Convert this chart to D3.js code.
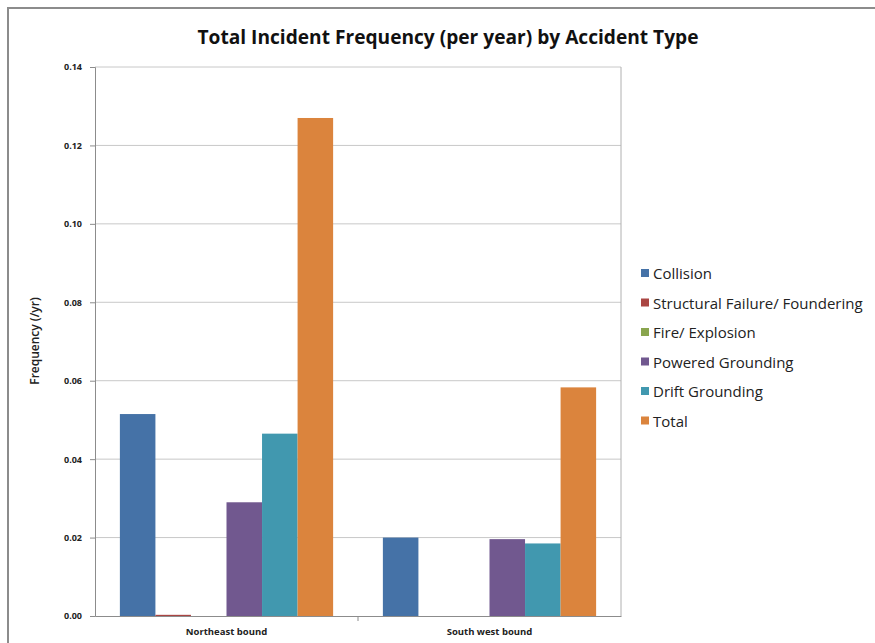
<!DOCTYPE html>
<html><head><meta charset="utf-8">
<script src="https://cdn.jsdelivr.net/npm/d3@7"></script>
<style>body{margin:0;background:#fff}svg{display:block}</style>
</head><body>
<svg id="c" width="875" height="643"></svg>
<script>
const categories = ["Northeast bound", "South west bound"];
const seriesNames = ["Collision", "Structural Failure/ Foundering", "Fire/ Explosion", "Powered Grounding", "Drift Grounding", "Total"];
const seriesColors = ["#4572A7", "#AA4643", "#89A54E", "#71588F", "#4198AF", "#DB843D"];
const northeastValues = [0.0515, 0.0003, 0, 0.029, 0.0465, 0.127];
const southwestValues = [0.020, 0, 0, 0.0196, 0.0185, 0.0583];
const yTicks = [0, 0.02, 0.04, 0.06, 0.08, 0.10, 0.12, 0.14];
const values = [northeastValues, southwestValues];

const svg = d3.select("#c");
const font = "'Open Sans', 'DejaVu Sans', sans-serif";
// outer frame
svg.append("path").attr("d","M8,643 V8 H875").attr("fill","none").attr("stroke","#8c8c8c").attr("stroke-width",2);

const L=95, R=621, T=67, B=616;
const x0 = d3.scaleBand().domain(categories).range([L,R]).padding(0);
const x1 = d3.scaleBand().domain(seriesNames).range([0, x0.bandwidth()]).paddingInner(0).paddingOuter(0.7);
const y = d3.scaleLinear().domain([0,0.14]).range([B,T]);

// gridlines
svg.append("g").selectAll("line").data(yTicks.slice(1)).join("line")
  .attr("x1",L).attr("x2",R).attr("y1",d=>y(d)).attr("y2",d=>y(d))
  .attr("stroke","#c8c8c8").attr("stroke-width",1);
svg.append("line").attr("x1",R).attr("x2",R).attr("y1",T).attr("y2",B).attr("stroke","#b0b0b0");

// bars
const g = svg.append("g");
categories.forEach((c,ci)=>{
  g.append("g").selectAll("rect").data(values[ci].map((v,i)=>({v,i}))).join("rect")
   .attr("x",d=>x0(c)+x1(seriesNames[d.i]))
   .attr("width",x1.bandwidth())
   .attr("y",d=>y(d.v))
   .attr("height",d=>B-y(d.v))
   .attr("fill",d=>seriesColors[d.i]);
});

// y axis
const ya = svg.append("g").attr("transform",`translate(${L},0)`)
  .call(d3.axisLeft(y).tickValues(yTicks).tickFormat(d3.format(".2f")).tickSize(5).tickPadding(8));
ya.select(".domain").attr("stroke","#8c8c8c");
ya.selectAll(".tick line").attr("stroke","#8c8c8c");
ya.selectAll("text").attr("font-family",font).attr("font-size",9).attr("font-weight","bold").attr("fill","#222");

// x axis
const xa = svg.append("g").attr("transform",`translate(0,${B})`)
  .call(d3.axisBottom(x0).tickSize(0).tickPadding(12));
xa.select(".domain").attr("stroke","#8c8c8c");
xa.selectAll("text").attr("font-family",font).attr("font-size",9.5).attr("font-weight","bold").attr("fill","#222");
svg.append("line").attr("x1",x0(categories[1])).attr("x2",x0(categories[1])).attr("y1",B).attr("y2",B+5).attr("stroke","#8c8c8c");

// title
svg.append("text").attr("x",448).attr("y",44).attr("text-anchor","middle")
  .attr("font-family",font).attr("font-size",19).attr("font-weight","bold").attr("fill","#111")
  .attr("textLength",501).attr("lengthAdjust","spacingAndGlyphs")
  .text("Total Incident Frequency (per year) by Accident Type");

// y label
svg.append("text").attr("transform","translate(39,341) rotate(-90)").attr("text-anchor","middle")
  .attr("font-family",font).attr("font-size",12).attr("font-weight",600).attr("fill","#222").text("Frequency (/yr)");

// legend
const lg = svg.append("g").selectAll("g").data(seriesNames).join("g")
  .attr("transform",(d,i)=>`translate(641,${274+i*29.5})`);
lg.append("rect").attr("x",0).attr("y",-5).attr("width",8).attr("height",8).attr("fill",(d,i)=>seriesColors[i]);
lg.append("text").attr("x",12).attr("y",5).attr("font-family",font).attr("font-size",15).attr("font-weight",500).attr("fill","#222").text(d=>d);
</script>
</body></html>
